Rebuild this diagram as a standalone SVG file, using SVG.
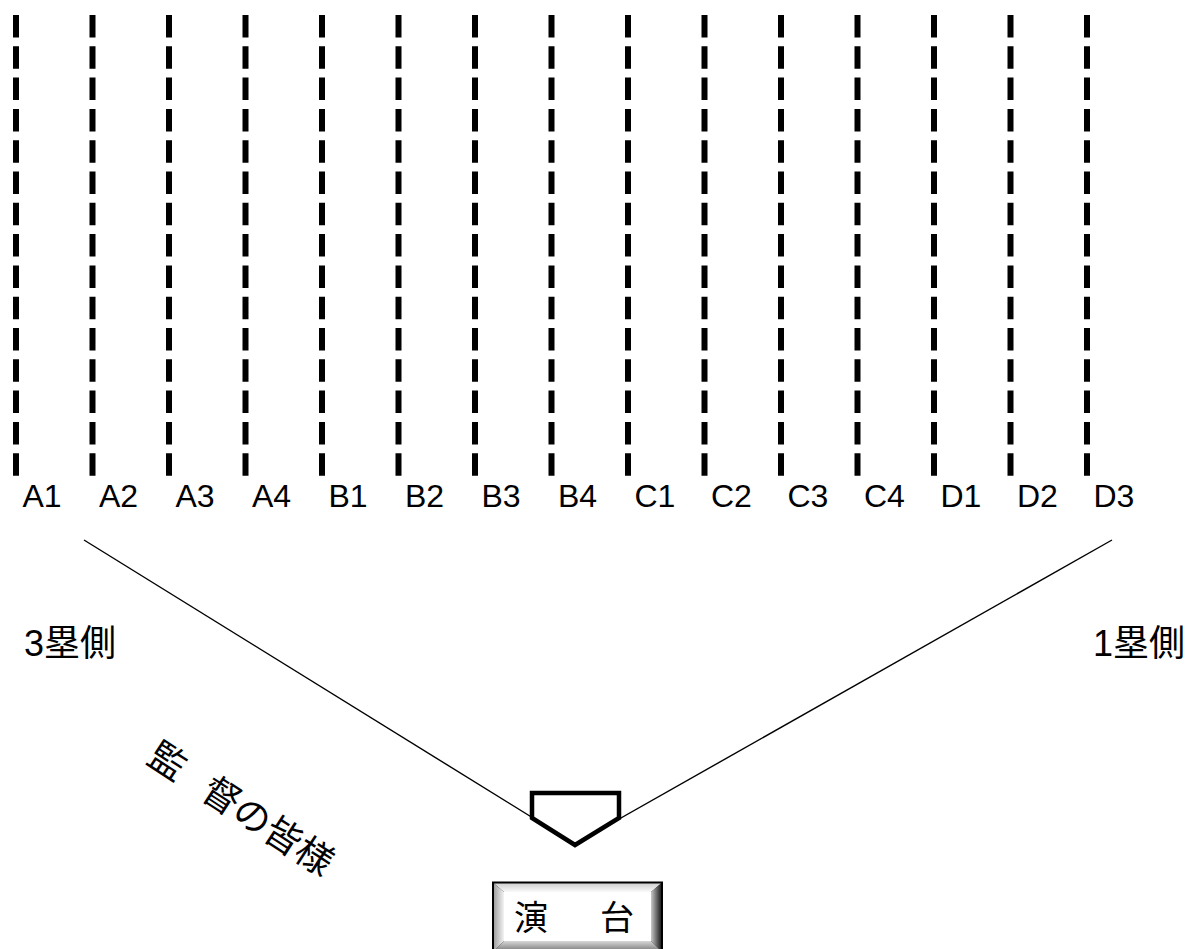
<svg xmlns="http://www.w3.org/2000/svg" width="1197" height="949" viewBox="0 0 1197 949">
<style>
.dash{stroke:#000;stroke-width:6;stroke-dasharray:22.5 8.8;fill:none}
.lbl{font-family:"Liberation Sans","Noto Sans CJK JP",sans-serif;font-size:32px;fill:#000}
.jp{font-family:"Liberation Sans","Noto Sans CJK JP",sans-serif;fill:#000}
.ln{stroke:#000;stroke-width:1.4;fill:none}
</style>
<defs>
<linearGradient id="gl" x1="0" y1="0" x2="1" y2="0"><stop offset="0" stop-color="#a0a0a0"/><stop offset="1" stop-color="#f4f4f4"/></linearGradient>
<linearGradient id="gr" x1="0" y1="0" x2="1" y2="0"><stop offset="0" stop-color="#c8c8c8"/><stop offset="1" stop-color="#202020"/></linearGradient>
<linearGradient id="gt" x1="0" y1="0" x2="0" y2="1"><stop offset="0" stop-color="#d0d0d0"/><stop offset="1" stop-color="#fafafa"/></linearGradient>
<linearGradient id="gb" x1="0" y1="0" x2="0" y2="1"><stop offset="0" stop-color="#d8d8d8"/><stop offset="1" stop-color="#7a7a7a"/></linearGradient>
</defs>
<g id="seats">
<line class="dash" x1="16" y1="15" x2="16" y2="476"/>
<line class="dash" x1="92.5" y1="15" x2="92.5" y2="476"/>
<line class="dash" x1="169" y1="15" x2="169" y2="476"/>
<line class="dash" x1="245.5" y1="15" x2="245.5" y2="476"/>
<line class="dash" x1="322" y1="15" x2="322" y2="476"/>
<line class="dash" x1="398.5" y1="15" x2="398.5" y2="476"/>
<line class="dash" x1="475" y1="15" x2="475" y2="476"/>
<line class="dash" x1="551.5" y1="15" x2="551.5" y2="476"/>
<line class="dash" x1="628" y1="15" x2="628" y2="476"/>
<line class="dash" x1="704.5" y1="15" x2="704.5" y2="476"/>
<line class="dash" x1="781" y1="15" x2="781" y2="476"/>
<line class="dash" x1="857.5" y1="15" x2="857.5" y2="476"/>
<line class="dash" x1="934" y1="15" x2="934" y2="476"/>
<line class="dash" x1="1010.5" y1="15" x2="1010.5" y2="476"/>
<line class="dash" x1="1087" y1="15" x2="1087" y2="476"/>
</g>
<g id="labels">
<text class="lbl" x="22.5" y="507">A1</text>
<text class="lbl" x="99" y="507">A2</text>
<text class="lbl" x="175.5" y="507">A3</text>
<text class="lbl" x="252" y="507">A4</text>
<text class="lbl" x="328.5" y="507">B1</text>
<text class="lbl" x="405" y="507">B2</text>
<text class="lbl" x="481.5" y="507">B3</text>
<text class="lbl" x="558" y="507">B4</text>
<text class="lbl" x="634.5" y="507">C1</text>
<text class="lbl" x="711" y="507">C2</text>
<text class="lbl" x="787.5" y="507">C3</text>
<text class="lbl" x="864" y="507">C4</text>
<text class="lbl" x="940.5" y="507">D1</text>
<text class="lbl" x="1017" y="507">D2</text>
<text class="lbl" x="1093.5" y="507">D3</text>
</g>
<g id="connectors">
<line class="ln" x1="84" y1="540" x2="575" y2="844"/>
<line class="ln" x1="1112" y1="540" x2="575" y2="844"/>
</g>
<g id="side3">
<text class="jp" x="24" y="656" font-size="36">3塁側</text>
</g>
<g id="side1">
<text class="jp" x="1093" y="656" font-size="36">1塁側</text>
</g>
<g id="managers">
<g transform="translate(145,762) rotate(33)">
<text class="jp" x="0" y="0" font-size="37">監</text>
<text class="jp" x="64" y="0" font-size="37">督の皆様</text>
</g>
</g>
<g id="homeplate">
<polygon points="532,793 619,793 619,818 575,845 532,818" fill="#fff" stroke="#000" stroke-width="4.5" stroke-linejoin="miter"/>
</g>
<g id="stage">
<rect x="492" y="881.5" width="171" height="70" fill="#000"/>
<polygon points="494,883.5 661,883.5 651,892 504,892" fill="url(#gt)"/>
<polygon points="494,883.5 504,892 504,941 494,951" fill="url(#gl)"/>
<polygon points="661,883.5 651,892 651,941 661,951" fill="url(#gr)"/>
<polygon points="504,941 651,941 661,951 494,951" fill="url(#gb)"/>
<rect x="504" y="892" width="147" height="49" fill="#fff"/>
<text class="jp" x="514" y="930" font-size="34">演</text>
<text class="jp" x="600" y="930" font-size="34">台</text>
</g>
</svg>
